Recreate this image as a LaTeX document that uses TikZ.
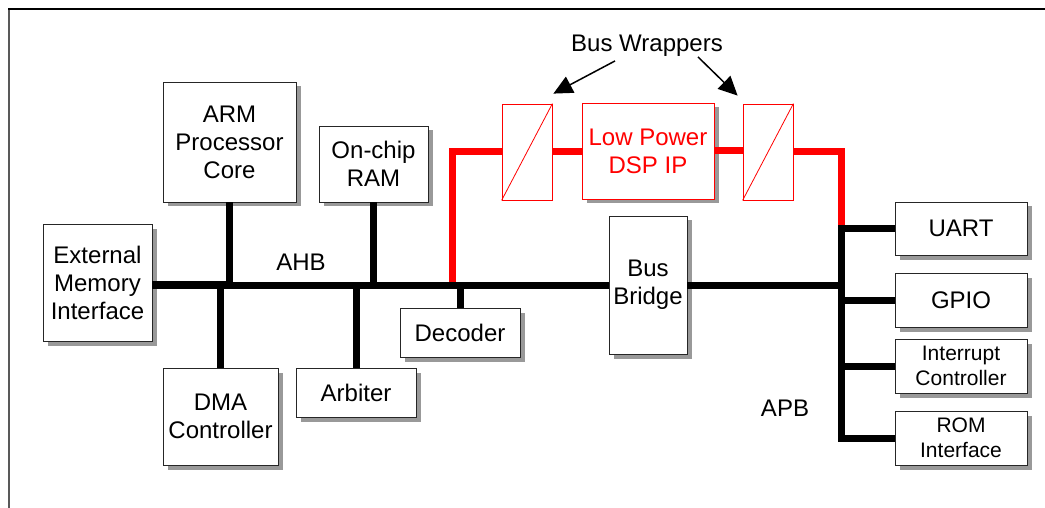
\documentclass[tikz,border=0pt]{standalone}
\usepackage{fontspec}
\setmainfont{Liberation Sans}
\usetikzlibrary{arrows.meta,shadows}
\begin{document}
\begin{tikzpicture}[x=1pt,y=-1pt,
  box/.style={draw=black!85, line width=0.8pt, fill=white, align=center, inner sep=0pt,
    font=\fontsize{24}{28}\selectfont,
    drop shadow={shadow xshift=4.5pt, shadow yshift=-4.5pt, fill=black!40, opacity=1}},
  smallbox/.style={box, font=\fontsize{21}{25}\selectfont},
  wrapbox/.style={draw=red, line width=0.8pt, fill=white, inner sep=0pt,
    minimum width=50pt, minimum height=96pt},
  redbox/.style={box, draw=red, text=red},
  bus/.style={line width=7pt, black},
  redbus/.style={line width=7pt, red},
  arr/.style={line width=1.5pt, -{Triangle[length=19pt,width=18pt]}},
  lbl/.style={font=\fontsize{24}{28}\selectfont, inner sep=2pt}
]
\useasboundingbox (0,0) rectangle (1045,508);
% frame
\draw[line width=1.6pt, black!65] (9,508) -- (9,9);
\draw[line width=1.3pt, black] (8.2,9) -- (1045,9);

% AHB side
\node[box, minimum width=109pt, minimum height=117pt] (emi) at (97.5,282.5) {External\\Memory\\Interface};
\node[box, minimum width=133pt, minimum height=120pt] (arm) at (229.5,142) {ARM\\Processor\\Core};
\node[box, minimum width=109pt, minimum height=76pt] (ram) at (373.5,164) {On-chip\\RAM};
\node[box, minimum width=115pt, minimum height=97pt] (dma) at (220.5,416.5) {DMA\\Controller};
\node[box, minimum width=120pt, minimum height=49pt] (arb) at (356,392.5) {Arbiter};
\node[box, minimum width=120pt, minimum height=49pt] (dec) at (460,332.5) {Decoder};
\node[box, minimum width=78pt, minimum height=138pt] (bridge) at (648,285) {Bus\\Bridge};

% DSP with wrappers
\node[redbox, minimum width=132pt, minimum height=96pt] (dsp) at (648,151) {Low Power\\DSP IP};
\node[wrapbox] (wl) at (527,152) {};
\node[wrapbox] (wr) at (768,152) {};
\draw[red, line width=0.8pt] (wl.south west) -- (wl.north east);
\draw[red, line width=0.8pt] (wr.south west) -- (wr.north east);

% APB side
\node[box, minimum width=132pt, minimum height=53pt] (uart) at (961,228.5) {UART};
\node[box, minimum width=132pt, minimum height=54pt] (gpio) at (961,300) {GPIO};
\node[smallbox, minimum width=132pt, minimum height=54pt] (irq) at (961,366) {Interrupt\\Controller};
\node[smallbox, minimum width=132pt, minimum height=54pt] (rom) at (961,438) {ROM\\Interface};

% labels
\node[lbl] (ahb) at (301,262) {AHB};
\node[lbl] (apb) at (785,408) {APB};
\node[lbl] (bw) at (647,46) {Bus Wrappers};

% red bus
\coordinate (rj) at (452,285);
\coordinate (apbx) at (841,0);
\draw[redbus] (rj) |- (wl.west);
\draw[redbus] (wl.east) -- (wl.east -| dsp.west);
\draw[redbus] (dsp.east) -- (dsp.east -| wr.west);
\draw[redbus] (wr.east) -| (uart.west -| apbx);

% AHB bus
\draw[line width=8pt] (emi.east |- bridge.west) -- (arm.south |- bridge.west);
\draw[bus] (emi.east |- bridge.west) -- (bridge.west);
\draw[bus] (arm.south) -- (arm.south |- bridge.west);
\draw[bus] (ram.south) -- (ram.south |- bridge.west);
\draw[bus] (dma.north) -- (dma.north |- bridge.west);
\draw[bus] (arb.north) -- (arb.north |- bridge.west);
\draw[bus] (dec.north) -- (dec.north |- bridge.west);

% APB bus
\draw[bus] (bridge.east) -- (bridge.east -| apbx);
\draw[bus] (uart.west) -- (uart.west -| apbx) -- (rom.west -| apbx) -- (rom.west);
\draw[bus] (gpio.west) -- (gpio.west -| apbx);
\draw[bus] (irq.west) -- (irq.west -| apbx);

% wrapper arrows
\draw[arr] ([xshift=-32pt,yshift=-2pt]bw.south) -- ([xshift=1pt,yshift=10pt]wl.north east);
\draw[arr] ([xshift=51pt,yshift=2pt]bw.south) -- ([xshift=-5pt,yshift=8pt]wr.north west);
\end{tikzpicture}
\end{document}
